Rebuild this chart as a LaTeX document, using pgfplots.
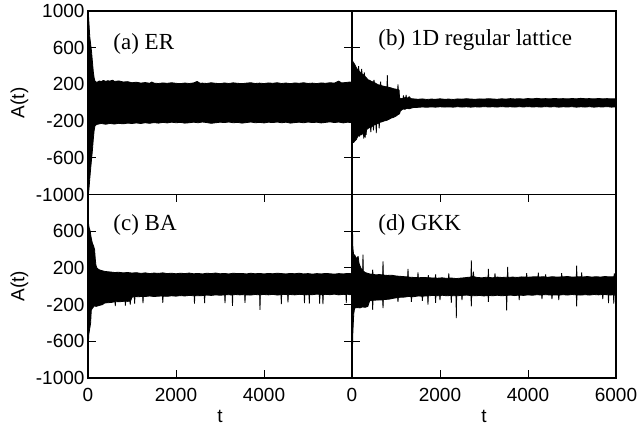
\documentclass[border=0pt]{standalone}
\usepackage{fontspec}
\setmainfont{Liberation Sans}
\newfontfamily\timesfont{Liberation Serif}
\usepackage{pgfplots}
\pgfplotsset{compat=1.18}
\usepgfplotslibrary{groupplots}
\tikzset{
 panel/.style={fill=black, draw=black, line width=0.8pt, line join=bevel},
 plab/.style={anchor=base west, font=\timesfont\fontsize{23}{26}\selectfont},
}

\begin{document}
\begin{tikzpicture}
\begin{groupplot}[
 group style={group size=2 by 2, horizontal sep=0pt, vertical sep=0pt},
 width=264pt, height=183.5pt, scale only axis,
 xmin=0, xmax=6000, ymin=-1000, ymax=1000,
 axis line style={line width=1.1pt},
 tick align=inside, major tick length=8pt,
 every tick/.style={black, line width=0.8pt},
 tick label style={font=\fontsize{19}{22}\selectfont},
 ytick={-1000,-600,-200,200,600,1000},
 label style={font=\fontsize{19}{22}\selectfont},
 xticklabel style={yshift=-7pt},
]
% (a) ER
\nextgroupplot[xtick=\empty, ytick pos=both,
  yticklabels={-1000,-600,-200,200,600,1000},
  ylabel={A(t)}, ylabel style={at={(rel axis cs:-0.26,0.5)}, anchor=center}]
\addplot[panel] coordinates {
(0,900) (10,960) (20,880) (40,720) (60,640) (80,560) (100,450) (120,340) (140,270) (160,235) (200,222) (260,238) (300,230) (350,244) (400,232) (450,240) (500,236) (560,246) (600,232) (700,238) (800,226) (900,230) (1000,218) (1100,224) (1200,214) (1300,220) (1400,212) (1450,226) (1500,214) (1600,210) (1700,216) (1800,212) (1900,218) (2000,212) (2100,208) (2200,215) (2300,210) (2400,216) (2480,232) (2550,212) (2600,214) (2700,210) (2800,218) (2900,212) (3000,208) (3100,216) (3200,210) (3300,217) (3400,212) (3500,208) (3600,214) (3700,218) (3800,210) (3900,214) (4000,209) (4100,216) (4200,212) (4300,218) (4400,210) (4500,215) (4600,208) (4700,216) (4800,212) (4900,218) (5000,210) (5100,214) (5200,209) (5300,216) (5400,212) (5500,218) (5600,214) (5700,236) (5760,216) (5850,220) (5950,226) (6000,222)
(6000,-218) (5900,-212) (5800,-220) (5700,-210) (5600,-216) (5500,-208) (5400,-214) (5300,-220) (5200,-212) (5100,-216) (5000,-210) (4900,-218) (4800,-212) (4700,-216) (4600,-222) (4500,-212) (4400,-218) (4300,-210) (4200,-216) (4100,-212) (4000,-220) (3900,-214) (3800,-218) (3700,-210) (3600,-216) (3500,-222) (3400,-214) (3300,-218) (3200,-210) (3100,-216) (3000,-212) (2900,-218) (2800,-224) (2700,-216) (2600,-210) (2500,-218) (2400,-212) (2300,-218) (2200,-222) (2100,-214) (2000,-218) (1900,-212) (1800,-220) (1700,-214) (1600,-222) (1500,-216) (1400,-224) (1300,-218) (1200,-226) (1100,-220) (1000,-226) (900,-222) (800,-230) (700,-224) (600,-232) (500,-226) (400,-234) (300,-226) (200,-236) (160,-250) (140,-300) (120,-400) (100,-520) (80,-620) (60,-720) (40,-830) (20,-950) (10,-990) (0,-940)
} -- cycle;
\node[plab] at (rel axis cs:0.083,0.79) {(a) ER};

% (b) 1D regular lattice
\nextgroupplot[xtick=\empty, ytick pos=left, yticklabels={}]
\addplot[panel] coordinates {
(0,470) (15,455) (30,440) (60,420) (90,390) (120,365) (136,360) (144,358) (150,400) (158,350) (190,330) (212,320) (220,370) (228,318) (260,300) (272,296) (280,330) (288,292) (330,270) (364,250) (400,245) (440,232) (480,226) (492,224) (500,250) (508,220) (560,205) (600,195) (642,190) (650,230) (658,188) (700,182) (760,175) (795,172) (803,300) (811,170) (860,165) (900,160) (950,152) (1000,148) (1040,144) (1045,200) (1052,142) (1070,138) (1080,60) (1100,42) (1150,48) (1162,50) (1170,80) (1178,52) (1190,55) (1222,56) (1230,84) (1238,54) (1260,50) (1300,66) (1340,45) (1400,42) (1500,38) (1600,42) (1700,36) (1800,40) (1900,38) (2000,43) (2100,38) (2200,40) (2300,36) (2400,42) (2500,39) (2600,44) (2700,40) (2800,38) (2900,42) (3000,40) (3100,44) (3200,41) (3300,38) (3400,43) (3500,40) (3600,45) (3700,41) (3800,44) (3900,40) (4000,46) (4100,42) (4200,48) (4300,43) (4400,45) (4500,42) (4600,47) (4700,43) (4800,45) (4900,42) (5000,46) (5100,43) (5200,48) (5300,44) (5400,45) (5500,42) (5600,46) (5700,43) (5800,45) (5900,42) (6000,44)
(6000,-44) (5900,-48) (5800,-42) (5700,-46) (5600,-44) (5500,-48) (5400,-43) (5300,-47) (5200,-44) (5100,-48) (5000,-43) (4900,-46) (4800,-44) (4700,-48) (4600,-43) (4500,-46) (4400,-42) (4300,-47) (4200,-44) (4100,-46) (4000,-42) (3900,-46) (3800,-43) (3700,-47) (3600,-44) (3500,-46) (3400,-42) (3300,-47) (3200,-44) (3100,-46) (3000,-42) (2900,-47) (2800,-44) (2700,-48) (2600,-44) (2500,-47) (2400,-43) (2300,-48) (2200,-45) (2100,-47) (2000,-44) (1900,-48) (1800,-45) (1700,-49) (1600,-46) (1500,-50) (1400,-52) (1350,-58) (1300,-66) (1250,-60) (1200,-72) (1160,-68) (1130,-78) (1100,-90) (1080,-120) (1045,-130) (1000,-145) (940,-160) (894,-166) (850,-178) (800,-190) (750,-196) (705,-203) (667,-210) (626,-214) (618,-280) (610,-218) (560,-230) (552,-330) (544,-228) (515,-240) (496,-245) (488,-300) (480,-250) (440,-262) (436,-263) (428,-320) (420,-265) (400,-270) (364,-280) (330,-295) (320,-350) (310,-300) (300,-380) (292,-310) (276,-318) (268,-390) (260,-325) (250,-335) (212,-350) (190,-345) (170,-365) (136,-360) (100,-400) (60,-420) (30,-435) (15,-430) (0,-400)
} -- cycle;
\node[plab] at (rel axis cs:0.087,0.81) {(b) 1D regular lattice};

% (c) BA
\nextgroupplot[xtick={0,2000,4000,6000}, xtick pos=both,
  xticklabels={0,2000,4000,{}}, ytick pos=both,
  yticklabels={-1000,-600,-200,200,600,{}},
  ylabel={A(t)}, ylabel style={at={(rel axis cs:-0.26,0.5)}, anchor=center},
  xlabel={t}, xlabel style={at={(rel axis cs:0.5,-0.207)}, anchor=center}]
\addplot[panel] coordinates {
(0,720) (10,690) (25,640) (50,600) (75,520) (100,470) (125,440) (150,400) (165,300) (180,230) (200,200) (250,180) (300,172) (380,162) (450,158) (520,155) (600,150) (700,152) (800,146) (900,150) (1000,144) (1100,148) (1200,140) (1300,146) (1400,138) (1500,144) (1600,140) (1700,146) (1800,138) (1900,142) (2000,136) (2100,142) (2200,138) (2300,144) (2400,136) (2500,140) (2600,134) (2700,142) (2800,138) (2900,144) (3000,136) (3100,140) (3200,134) (3300,142) (3400,138) (3500,140) (3600,134) (3700,142) (3800,136) (3900,140) (4000,134) (4100,140) (4200,136) (4300,142) (4400,138) (4500,134) (4600,140) (4700,136) (4800,142) (4900,134) (5000,138) (5100,132) (5200,138) (5300,134) (5400,140) (5500,136) (5600,132) (5700,138) (5800,134) (5900,140) (6000,136)
(6000,-88) (5950,-92) (5900,-86) (5878,-88) (5870,-180) (5862,-90) (5800,-88) (5700,-94) (5600,-86) (5500,-92) (5400,-88) (5348,-90) (5340,-195) (5332,-90) (5300,-92) (5273,-90) (5265,-190) (5257,-88) (5200,-86) (5100,-92) (5038,-90) (5030,-190) (5022,-90) (4960,-94) (4928,-92) (4920,-185) (4912,-92) (4800,-88) (4700,-94) (4600,-90) (4553,-92) (4545,-175) (4537,-92) (4450,-88) (4402,-90) (4394,-195) (4386,-92) (4300,-96) (4200,-88) (4100,-94) (4000,-90) (3917,-92) (3909,-257) (3901,-94) (3800,-90) (3700,-96) (3576,-94) (3568,-180) (3560,-92) (3450,-94) (3350,-90) (3292,-94) (3284,-215) (3276,-96) (3200,-92) (3122,-94) (3114,-185) (3106,-94) (3000,-98) (2900,-94) (2800,-100) (2700,-96) (2658,-98) (2650,-185) (2642,-100) (2550,-104) (2428,-102) (2420,-190) (2412,-104) (2300,-100) (2200,-106) (2100,-102) (2000,-108) (1900,-104) (1800,-110) (1708,-108) (1700,-180) (1692,-106) (1600,-108) (1500,-112) (1400,-106) (1300,-112) (1258,-110) (1250,-185) (1242,-110) (1150,-114) (1068,-112) (1060,-190) (1052,-112) (1000,-120) (968,-160) (960,-200) (952,-162) (900,-165) (858,-162) (850,-210) (842,-160) (800,-165) (700,-170) (628,-168) (620,-215) (612,-168) (550,-175) (450,-180) (380,-182) (330,-200) (250,-210) (180,-220) (150,-210) (100,-240) (75,-260) (60,-400) (40,-460) (20,-520) (10,-600) (0,-560)
} -- cycle;
\node[plab] at (rel axis cs:0.083,0.806) {(c) BA};

% (d) GKK
\nextgroupplot[xtick={0,2000,4000,6000}, xtick pos=both,
  xticklabels={0,2000,4000,6000}, ytick pos=left, yticklabels={},
  xlabel={t}, xlabel style={at={(rel axis cs:0.5,-0.207)}, anchor=center}]
\addplot[panel] coordinates {
(0,800) (8,700) (20,420) (40,330) (60,344) (80,320) (100,300) (140,326) (160,250) (200,200) (240,170) (242,168) (250,344) (258,165) (300,150) (360,140) (420,132) (462,131) (470,180) (478,130) (550,124) (620,128) (697,123) (705,271) (713,122) (800,118) (900,120) (1000,112) (1100,108) (1200,104) (1265,102) (1273,188) (1281,100) (1400,96) (1492,94) (1500,150) (1508,92) (1600,96) (1727,93) (1735,120) (1743,92) (1850,90) (1892,90) (1900,130) (1908,88) (1950,88) (2050,92) (2150,86) (2192,88) (2200,140) (2208,88) (2250,90) (2371,84) (2450,88) (2550,92) (2650,98) (2704,100) (2712,282) (2720,110) (2752,104) (2760,160) (2768,104) (2850,96) (2950,92) (3050,98) (3092,96) (3100,188) (3108,96) (3200,92) (3242,96) (3250,140) (3258,96) (3300,100) (3400,96) (3530,98) (3538,210) (3546,96) (3650,100) (3750,96) (3850,102) (3962,100) (3970,144) (3978,98) (4100,102) (4227,102) (4235,148) (4243,100) (4350,104) (4392,100) (4400,130) (4408,100) (4450,98) (4550,104) (4650,100) (4757,102) (4765,144) (4773,102) (4900,106) (5000,100) (5098,102) (5106,224) (5114,104) (5212,102) (5220,150) (5228,100) (5350,106) (5450,100) (5550,104) (5650,100) (5750,106) (5850,102) (5954,104) (5962,140) (5970,104) (6000,100)
(6000,-90) (5958,-92) (5950,-190) (5942,-92) (5880,-96) (5838,-94) (5830,-184) (5822,-92) (5708,-90) (5700,-140) (5692,-90) (5600,-94) (5500,-90) (5400,-96) (5300,-92) (5200,-96) (5114,-94) (5106,-220) (5098,-94) (5000,-90) (4900,-96) (4800,-92) (4708,-96) (4700,-150) (4692,-96) (4600,-94) (4553,-96) (4545,-140) (4537,-96) (4400,-92) (4326,-94) (4318,-140) (4310,-96) (4200,-92) (4100,-98) (4000,-94) (3900,-100) (3808,-96) (3800,-150) (3792,-96) (3700,-102) (3600,-96) (3523,-100) (3515,-264) (3507,-100) (3400,-104) (3300,-98) (3200,-104) (3108,-100) (3100,-170) (3092,-100) (3000,-106) (2900,-100) (2800,-104) (2720,-102) (2712,-220) (2704,-102) (2600,-96) (2508,-100) (2500,-150) (2492,-100) (2379,-104) (2371,-348) (2363,-104) (2265,-102) (2257,-180) (2249,-100) (2150,-104) (2050,-98) (2008,-102) (2000,-150) (1992,-102) (1950,-104) (1908,-102) (1900,-180) (1892,-102) (1850,-100) (1735,-104) (1727,-200) (1719,-104) (1608,-108) (1600,-160) (1592,-108) (1500,-106) (1400,-114) (1358,-112) (1350,-170) (1342,-112) (1300,-110) (1200,-118) (1100,-120) (1053,-122) (1045,-170) (1037,-124) (950,-130) (850,-140) (713,-146) (705,-238) (697,-148) (600,-150) (478,-152) (470,-257) (462,-150) (400,-160) (360,-220) (300,-230) (240,-225) (180,-236) (120,-232) (60,-238) (40,-300) (20,-500) (8,-740) (0,-700)
} -- cycle;
\node[plab] at (rel axis cs:0.087,0.804) {(d) GKK};
\end{groupplot}
\path (group c1r1.north west) ++(-88pt,11pt) rectangle ++(642pt,-428pt);
\end{tikzpicture}
\end{document}
